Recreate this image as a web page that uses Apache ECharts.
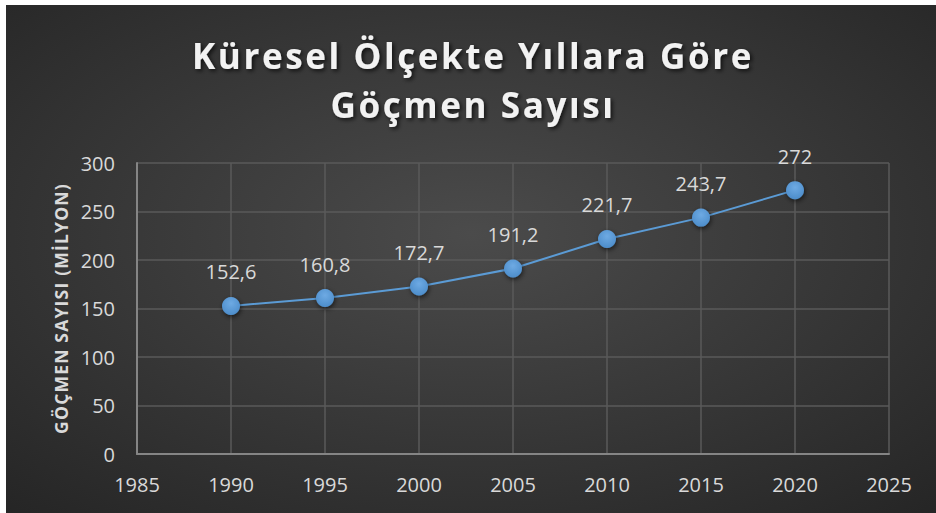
<!DOCTYPE html>
<html>
<head>
<meta charset="utf-8">
<script src="https://cdn.jsdelivr.net/npm/echarts@6/dist/echarts.min.js"></script>
<style>
    html, body { margin: 0; padding: 0; background: #ffffff; }
    #chart { position: absolute; left: 6px; top: 5px; width: 930px; height: 508px; }
    /* spaced-out title, like the office chart */
    #chart svg text[style*="35px"] { letter-spacing: 2.6px; }
    #chart svg text[style*="17.5px"] { letter-spacing: 1.2px; }
</style>
</head>
<body>
<div id="chart"></div>
<script>
const years = [1990, 1995, 2000, 2005, 2010, 2015, 2020];
const migrants = [152.6, 160.8, 172.7, 191.2, 221.7, 243.7, 272];
const titleLines = ['Küresel Ölçekte Yıllara Göre', 'Göçmen Sayısı'];
const yAxisTitle = 'GÖÇMEN SAYISI (MİLYON)';

const labelColor = '#d9d9d9';
const chart = echarts.init(document.getElementById('chart'), null, { renderer: 'svg' });
const option = {
    backgroundColor: {
        type: 'radial',
        x: 0.5, y: 0.45, r: 0.75,
        colorStops: [
            { offset: 0, color: '#4b4b4b' },
            { offset: 1, color: '#252525' }
        ]
    },
    title: {
        text: titleLines.join('\n'),
        left: 462,
        textAlign: 'center',
        top: 21,
        textStyle: {
            color: '#f2f2f2',
            fontFamily: 'Open Sans',
            fontWeight: 'bold',
            fontSize: 35,
            lineHeight: 49,
            textShadowColor: 'rgba(0,0,0,0.7)',
            textShadowBlur: 4,
            textShadowOffsetX: 2,
            textShadowOffsetY: 2
        }
    },
    grid: {
        left: 131,
        right: 47,
        top: 158,
        bottom: 59
    },
    xAxis: {
        type: 'value',
        min: 1985,
        max: 2025,
        interval: 5,
        axisLine: { show: true, onZero: false, lineStyle: { color: '#858585', width: 2 } },
        axisTick: { show: false },
        axisLabel: {
            color: labelColor, fontFamily: 'Open Sans', fontSize: 20, margin: 20,
            formatter: v => String(v)
        },
        splitLine: { show: true, lineStyle: { color: '#5a5a5a', width: 1.5 } }
    },
    yAxis: {
        type: 'value',
        min: 0,
        max: 300,
        interval: 50,
        name: yAxisTitle,
        nameLocation: 'middle',
        nameGap: 66,
        nameTextStyle: { color: labelColor, fontFamily: 'Open Sans', fontWeight: 'bold', fontSize: 17.5 },
        axisLine: { show: true, lineStyle: { color: '#858585', width: 2 } },
        axisTick: { show: false },
        axisLabel: { color: labelColor, fontFamily: 'Open Sans', fontSize: 20, margin: 22 },
        splitLine: { show: true, lineStyle: { color: '#5a5a5a', width: 1.5 } }
    },
    series: [
        {
            type: 'line',
            data: years.map((y, i) => [y, migrants[i]]),
            symbol: 'circle',
            symbolSize: 18,
            lineStyle: { color: '#5b9bd5', width: 2 },
            itemStyle: {
                color: {
                    type: 'radial', x: 0.5, y: 0.35, r: 0.6,
                    colorStops: [
                        { offset: 0, color: '#6eaae3' },
                        { offset: 1, color: '#4f8fcc' }
                    ]
                },
                shadowColor: 'rgba(0,0,0,0.6)',
                shadowBlur: 5,
                shadowOffsetX: 1,
                shadowOffsetY: 2
            },
            label: {
                show: true,
                position: 'top',
                distance: 15,
                color: labelColor,
                fontFamily: 'Open Sans',
                fontSize: 20,
                formatter: p => String(p.value[1]).replace('.', ',')
            }
        }
    ]
};
chart.setOption(option);
</script>
</body>
</html>
